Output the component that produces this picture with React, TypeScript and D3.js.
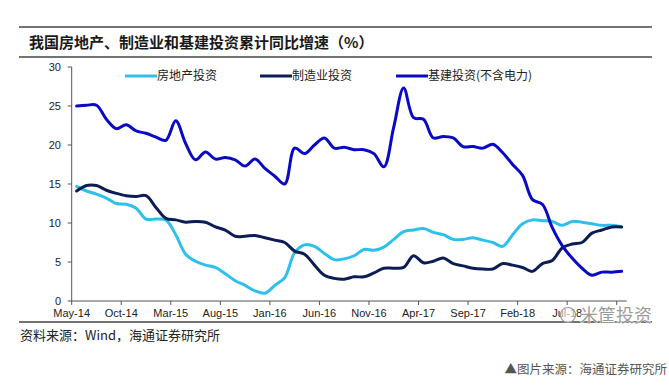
import React from 'react'
import * as d3 from 'd3'

// monthly, May-14 .. Dec-18 (56 categories)
const months: string[] = [
  'May-14', 'Jun-14', 'Jul-14', 'Aug-14', 'Sep-14', 'Oct-14', 'Nov-14', 'Dec-14',
  'Jan-15', 'Feb-15', 'Mar-15', 'Apr-15', 'May-15', 'Jun-15', 'Jul-15', 'Aug-15', 'Sep-15', 'Oct-15', 'Nov-15', 'Dec-15',
  'Jan-16', 'Feb-16', 'Mar-16', 'Apr-16', 'May-16', 'Jun-16', 'Jul-16', 'Aug-16', 'Sep-16', 'Oct-16', 'Nov-16', 'Dec-16',
  'Jan-17', 'Feb-17', 'Mar-17', 'Apr-17', 'May-17', 'Jun-17', 'Jul-17', 'Aug-17', 'Sep-17', 'Oct-17', 'Nov-17', 'Dec-17',
  'Jan-18', 'Feb-18', 'Mar-18', 'Apr-18', 'May-18', 'Jun-18', 'Jul-18', 'Aug-18', 'Sep-18', 'Oct-18', 'Nov-18', 'Dec-18',
]

const realEstate: number[] = [
  14.7, 14.1, 13.7, 13.2, 12.5, 12.4, 11.9, 10.5,
  10.5, 10.4, 8.5, 6.0, 5.1, 4.6, 4.3, 3.5, 2.6, 2.0, 1.3, 1.0,
  2.0, 3.0, 6.2, 7.2, 7.0, 6.1, 5.3, 5.4, 5.8, 6.6, 6.5, 6.9,
  7.9, 8.9, 9.1, 9.3, 8.8, 8.5, 7.9, 7.9, 8.1, 7.8, 7.5, 7.0,
  8.5, 9.9, 10.4, 10.3, 10.2, 9.7, 10.2, 10.1, 9.9, 9.7, 9.7, 9.5,
]

const manufacturing: number[] = [
  14.1, 14.8, 14.8, 14.2, 13.8, 13.5, 13.4, 13.5,
  12.0, 10.6, 10.4, 10.1, 10.2, 10.1, 9.5, 9.1, 8.3, 8.3, 8.4, 8.1,
  7.8, 7.5, 6.4, 6.0, 4.6, 3.3, 2.9, 2.8, 3.1, 3.1, 3.6, 4.2,
  4.2, 4.3, 5.8, 4.9, 5.1, 5.5, 4.8, 4.5, 4.2, 4.1, 4.1, 4.8,
  4.6, 4.3, 3.8, 4.8, 5.2, 6.8, 7.3, 7.5, 8.7, 9.1, 9.5, 9.5,
]

const infrastructure: number[] = [
  25.0, 25.1, 25.1, 23.3, 22.1, 22.6, 21.8, 21.5,
  21.0, 20.6, 23.1, 20.2, 18.1, 19.1, 18.2, 18.4, 18.1, 17.3, 18.2, 17.0,
  16.0, 15.0, 19.6, 18.9, 20.0, 20.9, 19.6, 19.7, 19.4, 19.4, 18.9, 17.2,
  22.3, 27.3, 23.5, 23.3, 20.9, 21.1, 20.9, 19.8, 19.8, 19.6, 20.1, 19.0,
  17.5, 16.1, 13.0, 12.4, 9.4, 7.1, 5.5, 4.2, 3.3, 3.7, 3.7, 3.8,
]

const yTicks: number[] = [0, 5, 10, 15, 20, 25, 30]
// every 5th category gets a tick; the last label sits under the watermark
const xTickLabels: string[] = [
  'May-14', 'Oct-14', 'Mar-15', 'Aug-15', 'Jan-16', 'Jun-16',
  'Nov-16', 'Apr-17', 'Sep-17', 'Feb-18', 'Jul-18',
]

const seriesNames: string[] = ['房地产投资', '制造业投资', '基建投资(不含电力)']
const seriesColors: string[] = ['#2ec0ec', '#0c1c54', '#0a0ac4']

const W = 669
const H = 391
const margin = { left: 71.7, right: 626.6, top: 67, bottom: 301 }

const cjk = '"Noto Sans CJK SC", "Noto Sans", sans-serif'
const latin = '"Liberation Sans", Arial, sans-serif'

const App: React.FC = () => {
  const x = d3.scaleLinear().domain([0, months.length]).range([margin.left, margin.right])
  const y = d3.scaleLinear().domain([0, 30]).range([margin.bottom, margin.top])

  const line = d3.line<number>()
    .x((_, i) => x(i + 0.5))
    .y(d => y(d))
    .curve(d3.curveCatmullRom.alpha(0.5))

  const allSeries = [realEstate, manufacturing, infrastructure]
  const tickIdx = d3.range(0, months.length, 5)

  const legendX = [125, 260, 396]

  return (
    <svg width={W} height={H} style={{ position: 'absolute', left: 0, top: 0, background: '#fff' }}>
      {/* title block */}
      <line x1={19} x2={652} y1={27} y2={27} stroke="#444" strokeWidth={1.6} />
      <text x={29} y={48} fontFamily={cjk} fontWeight={700} fontSize={15} fill="#1a1a1a">
        我国房地产、制造业和基建投资累计同比增速（%）
      </text>
      <line x1={19} x2={652} y1={57} y2={57} stroke="#444" strokeWidth={1.6} />

      {/* y axis */}
      <line x1={margin.left} x2={margin.left} y1={margin.top} y2={margin.bottom} stroke="#555" />
      {yTicks.map(t => (
        <g key={t}>
          <line x1={margin.left - 4} x2={margin.left} y1={y(t)} y2={y(t)} stroke="#555" />
          <text x={61} y={y(t) + 4} textAnchor="end" fontFamily={latin} fontSize={11} fill="#222">{t}</text>
        </g>
      ))}

      {/* x axis */}
      <line x1={margin.left} x2={margin.right} y1={margin.bottom} y2={margin.bottom} stroke="#555" />
      {tickIdx.map((i, k) => (
        <g key={i}>
          <line x1={x(i)} x2={x(i)} y1={margin.bottom} y2={margin.bottom + 4} stroke="#555" />
          {xTickLabels[k] && (
            <text x={x(i)} y={317} textAnchor="middle" fontFamily={latin} fontSize={11} fill="#222">{xTickLabels[k]}</text>
          )}
        </g>
      ))}

      {/* series */}
      {allSeries.map((s, k) => (
        <path key={k} d={line(s) || ''} fill="none" stroke={seriesColors[k]} strokeWidth={3}
          strokeLinejoin="round" strokeLinecap="round" />
      ))}

      {/* legend */}
      {seriesNames.map((n, k) => (
        <g key={n}>
          <line x1={legendX[k]} x2={legendX[k] + 32} y1={76} y2={76} stroke={seriesColors[k]} strokeWidth={3} />
          <text x={legendX[k] + 32} y={80} fontFamily={cjk} fontSize={12} fill="#222">{n}</text>
        </g>
      ))}

      {/* bottom rule + source */}
      <line x1={19} x2={652} y1={322} y2={322} stroke="#444" strokeWidth={1.6} />
      <text x={20} y={340} fontFamily={cjk} fontSize={13} fill="#222">资料来源：Wind，海通证券研究所</text>

      {/* watermark */}
      <g>
        <circle cx={568} cy={315} r={7.5} fill="#fff" fillOpacity={0.6} stroke="#999" strokeWidth={1.2} />
        <text x={580} y={322} fontFamily={cjk} fontSize={18} fill="#888" fillOpacity={0.85}
          stroke="#fff" strokeWidth={0.8} paintOrder="stroke">米筐投资</text>
      </g>

      <text x={667} y={374} textAnchor="end" fontFamily={cjk} fontSize={12.5} fill="#555">▲图片来源：海通证券研究所</text>
    </svg>
  )
}

export default App
